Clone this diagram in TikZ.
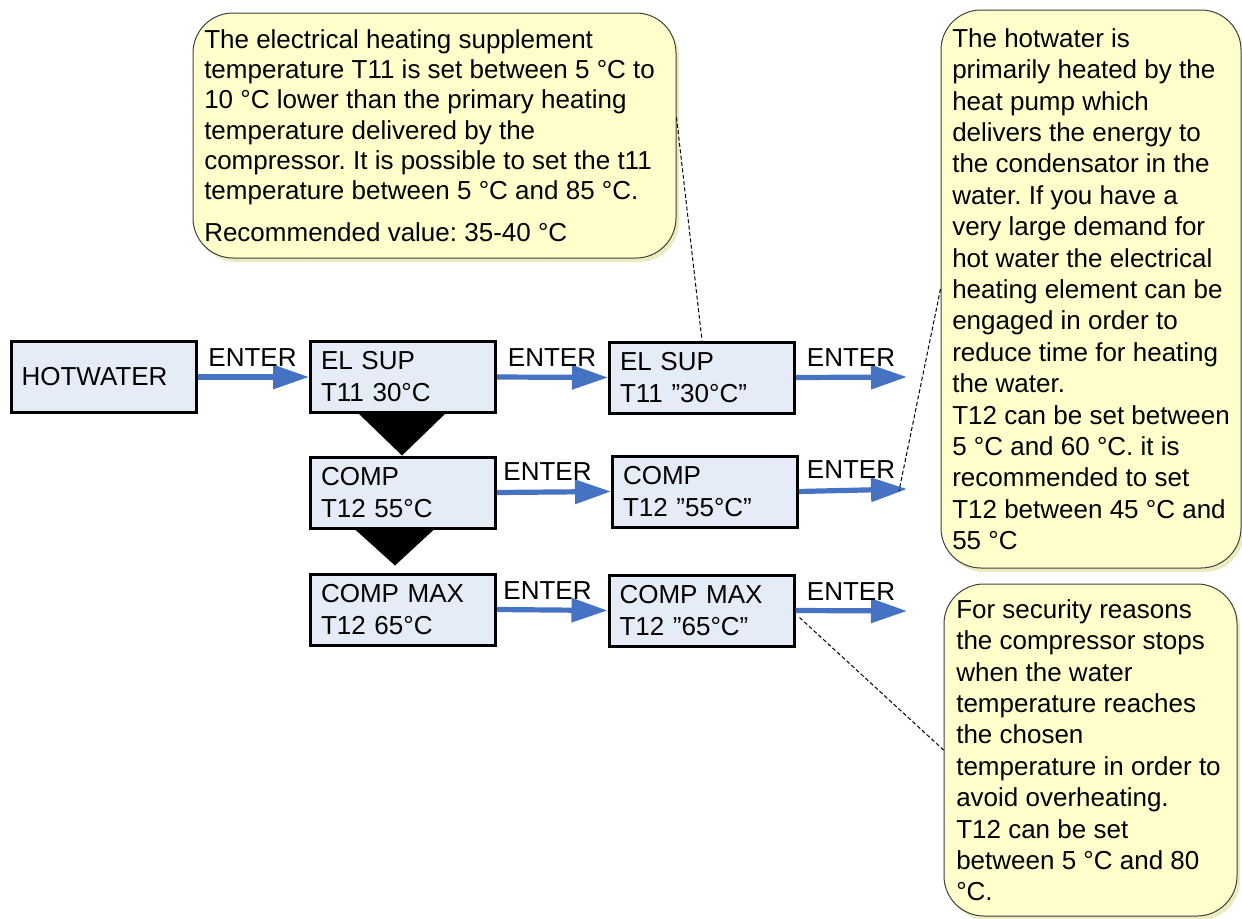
\documentclass[tikz,border=0pt]{standalone}
\usepackage{fontspec}
\setmainfont{Liberation Sans}
\usetikzlibrary{arrows.meta,calc,shadows}
\definecolor{boxfill}{RGB}{230,236,247}
\definecolor{arrowblue}{RGB}{70,114,196}
\definecolor{callfill}{RGB}{255,255,204}
\definecolor{callborder}{RGB}{64,64,64}
\definecolor{shadowcol}{RGB}{236,236,192}
\newcommand{\boxfont}{\fontsize{19.5}{24}\selectfont}
\newcommand{\labfont}{\fontsize{19.5}{24}\selectfont}
\frenchspacing
\begin{document}
\begin{tikzpicture}[x=0.75pt,y=-0.75pt,
  screen/.style={draw=black, line width=2.25pt, fill=boxfill,
    minimum height=53.25pt, text width=122.95pt, inner xsep=7.9pt,
    align=left, font=\boxfont},
  flow/.style={draw=arrowblue, line width=3.9pt,
    -{Triangle[length=27pt,width=17.5pt]}},
  keylab/.style={inner sep=0pt, font=\labfont},
  callout/.style={draw=callborder, line width=0.75pt, fill=callfill,
    rounded corners=30pt,
    drop shadow={fill=shadowcol, opacity=1, shadow xshift=2.25pt, shadow yshift=-3pt}},
  ctext/.style={align=left, inner sep=0pt, anchor=north west},
  leader/.style={draw=black, line width=0.75pt, dash pattern=on 3pt off 1.8pt},
  drop/.style={fill=black}]
\useasboundingbox (0,0) rectangle (1242,918);

% callouts
\node[callout, minimum width=362.25pt, minimum height=183.75pt] (c1) at (434.5,135.5) {};
\node[callout, minimum width=225pt, minimum height=418.5pt] (c2) at (1091,289) {};
\node[callout, minimum width=219.75pt, minimum height=249pt] (c3) at (1090.5,750) {};

\node[ctext, font=\fontsize{19.5}{22.7}\selectfont] (t1) at (204,26.8) {\strut The electrical heating supplement\\
temperature T11 is set between 5 °C to\\
10 °C lower than the primary heating\\
temperature delivered by the\\
compressor. It is possible to set the t11\\
temperature between 5 °C and 85 °C.\\[8.6pt]
Recommended value: 35-40 °C};

\node[ctext, font=\fontsize{19.5}{23.55}\selectfont] (t2) at (952,25) {\strut The hotwater is\\
primarily heated by the\\
heat pump which\\
delivers the energy to\\
the condensator in the\\
water. If you have a\\
very large demand for\\
hot water the electrical\\
heating element can be\\
engaged in order to\\
reduce time for heating\\
the water.\\
T12 can be set between\\
5 °C and 60 °C. it is\\
recommended to set\\
T12 between 45 °C and\\
55 °C};

\node[ctext, font=\fontsize{19.5}{23.55}\selectfont] (t3) at (956,596) {\strut For security reasons\\
the compressor stops\\
when the water\\
temperature reaches\\
the chosen\\
temperature in order to\\
avoid overheating.\\
T12 can be set\\
between 5 °C and 80\\
°C.};

% screens
\node[screen] (hw) at (103.5,377) {HOTWATER};
\node[screen] (es) at (403,377) {EL SUP\\T11 30°C};
\node[screen] (comp) at (403,492.5) {COMP\\T12 55°C};
\node[screen] (cm) at (403,609.5) {COMP MAX\\T12 65°C};
\node[screen] (es2) at (702,377.5) {EL SUP\\T11 ”30°C”};
\node[screen] (comp2) at (705,491.5) {COMP\\T12 ”55°C”};
\node[screen] (cm2) at (701.5,610.5) {COMP MAX\\T12 ”65°C”};

% drop triangles
\fill[drop] ($(es.south)+(-45,-1)$) -- ($(es.south)+(43,-1)$) -- ($(comp.north)+(-1,0)$) -- cycle;
\fill[drop] ($(comp.south)+(-49,-1)$) -- ($(comp.south)+(32,-1)$) -- ($(cm.north)+(-8,-7)$) -- cycle;

% free arrow ends
\coordinate (e1) at (907,377);
\coordinate (e2) at (907,489);
\coordinate (e3) at (907,611);

% arrows
\draw[flow] (hw.east) -- (es.west);
\draw[flow] (es.east) -- (es2.west);
\draw[flow] (es2.east) -- (e1);
\draw[flow] (comp.east) -- (comp2.west);
\draw[flow] (comp2.east) -- (e2);
\draw[flow] (cm.east) -- (cm2.west);
\draw[flow] (cm2.east) -- (e3);

% ENTER labels
\node[keylab] (k1) at (252.5,357.5) {ENTER};
\node[keylab] (k2) at (552,358) {ENTER};
\node[keylab] (k3) at (851,358) {ENTER};
\node[keylab] (k4) at (547.5,472) {ENTER};
\node[keylab] (k5) at (851,469.5) {ENTER};
\node[keylab] (k6) at (547.5,591) {ENTER};
\node[keylab] (k7) at (851,591.5) {ENTER};

% leader lines
\draw[leader] ($(c1.east)+(0,-18)$) -- (es2.north);
\draw[leader] (c2.west) -- ($(e2)+(-8,2)$);
\draw[leader] ($(cm2.east)+(4,7)$) -- (c3.west);
\end{tikzpicture}
\end{document}
